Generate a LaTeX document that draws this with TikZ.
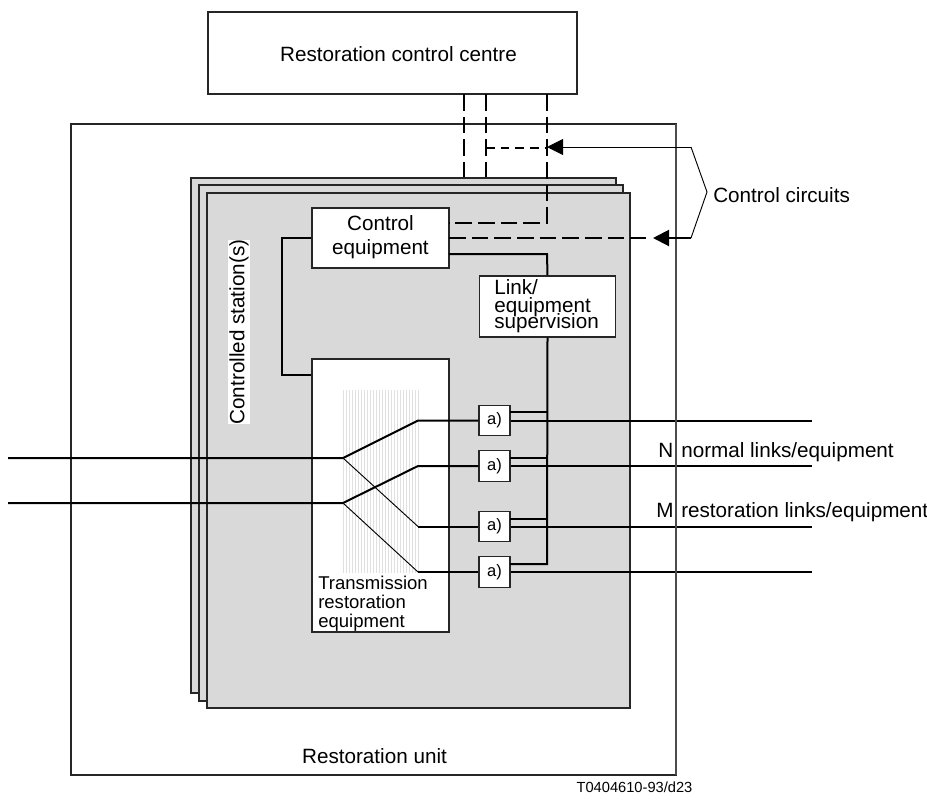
\documentclass[tikz,border=0pt]{standalone}
\usepackage{fontspec}
\setmainfont{Liberation Sans}
\usepackage{tikz}
\usetikzlibrary{arrows.meta}
\definecolor{stationgrey}{gray}{0.85}

\begin{document}
\begin{tikzpicture}[x=0.75pt, y=-0.75pt, font=\fontsize{15.5}{17}\selectfont,
    box/.style = {draw=black!85, fill=white, inner sep=0pt, line width=0.9pt},
    station/.style = {draw=black!85, fill=stationgrey, line width=1.1pt},
    small/.style = {box, minimum width=23.25pt, minimum height=23pt, font=\fontsize{12.4}{14}\selectfont},
    link/.style = {line width=1.5pt},
    thin link/.style = {line width=0.7pt},
    circuit/.style = {line width=1.5pt, dash pattern=on 12.5pt off 4.5pt},
    head/.style = {-{Triangle[length=12pt,width=12pt]}}]
    \useasboundingbox (0,0) rectangle (927,801);
    % outer boxes
    \node[box, minimum width=276.75pt, minimum height=61.5pt] (centre) at (392.5,53) {};
    \node (centrelabel) at (398.5,54) {Restoration control centre};
    \node[box, minimum width=453.75pt, minimum height=488.25pt] (unit) at (373.5,449.5) {};
    \node[anchor=base] (unitlabel) at (374.5,763) {Restoration unit};
    \node[anchor=base, font=\fontsize{11}{13}\selectfont] (code) at (634.5,792) {T0404610-93/d23};
    % control circuits above the stations
    \coordinate (d1) at (464,94);
    \coordinate (d2) at (486,94);
    \coordinate (d3) at (547,94);
    \coordinate (d1e) at (464,178);
    \coordinate (d2e) at (486,178);
    \coordinate (d3m) at (547,148);
    \coordinate (d2m) at (486,148);
    \draw[circuit] (d1) -- (d1e);
    \draw[circuit] (d2) -- (d2e);
    \draw[link, dash pattern=on 6.5pt off 4.5pt] (d2m) -- (d3m);
    % controlled stations
    \draw[station] (191,178) rectangle (616,693);
    \draw[station] (199,185) rectangle (623,701);
    \draw[station] (207,193) rectangle (630,708);
    \node[fill=white, rotate=90, inner xsep=0pt, inner ysep=1pt] (stations) at (239,332) {Controlled station(s)};
    % boxes
    \node[box, minimum width=102.75pt, minimum height=45pt] (control) at (380.5,238) {};
    \node[anchor=base] (controla) at (380.5,230) {Control};
    \node[anchor=base] (controlb) at (380.5,254) {equipment};
    \node[box, minimum width=102.75pt, minimum height=204.75pt] (trans) at (380.5,495.5) {};
    \node[box, minimum width=102pt, minimum height=45.75pt] (super) at (547.5,306.5) {};
    \node[anchor=base west, inner sep=0pt] (supera) at (494,294) {Link/};
    \node[anchor=base west, inner sep=0pt] (superb) at (494,312) {equipment};
    \node[anchor=base west, inner sep=0pt] (superc) at (494,328) {supervision};
    \foreach \x in {343,346,...,420}
        \draw[black!12, line width=0.4pt] (\x,390) -- (\x,573);
    \node[anchor=north west, inner sep=0pt, align=left, font=\fontsize{13.9}{14.3}\selectfont] (translabel) at (318,576) {Transmission\\restoration\\equipment};
    \node[small] (a1) at (494.5,420.5) {a)};
    \node[small] (a2) at (494.5,466) {a)};
    \node[small] (a3) at (494.5,526.5) {a)};
    \node[small] (a4) at (494.5,572) {a)};
    % switch
    \coordinate (in1) at (8,458);
    \coordinate (in2) at (8,503);
    \coordinate (f1) at (343,458);
    \coordinate (f2) at (343,503);
    \coordinate (t1) at (418,420.5);
    \coordinate (t2) at (418,466);
    \coordinate (t3) at (418,526.5);
    \coordinate (t4) at (418,572);
    \draw[link] (in1) -- (f1) -- (t1) -- (a1);
    \draw[link] (in2) -- (f2) -- (t2) -- (a2);
    \draw[thin link] (f1) -- (t3);
    \draw[thin link] (f2) -- (t4);
    \draw[link] (t3) -- (a3);
    \draw[link] (t4) -- (a4);
    % outgoing links
    \coordinate (o1) at (812,420.5);
    \coordinate (o2) at (812,466);
    \coordinate (o3) at (812,526.5);
    \coordinate (o4) at (812,572);
    \draw[link] (a1) -- (o1);
    \draw[link] (a2) -- (o2);
    \draw[link] (a3) -- (o3);
    \draw[link] (a4) -- (o4);
    \draw[black!70, line width=0.9pt] (676,124) -- (676,775);
    \node[anchor=base west, inner sep=0pt] (nlabel) at (658,457) {N};
    \node[anchor=base west, inner sep=0pt] (nlabelb) at (681,457) {normal links/equipment};
    \node[anchor=base west, inner sep=0pt] (mlabel) at (656,517) {M};
    \node[anchor=base west, inner sep=0pt] (mlabelb) at (681,517) {restoration links/equipment};
    % supervision bus
    \coordinate (b0) at (547,254);
    \coordinate (b4) at (547,564);
    \coordinate (c1) at (449,254);
    \draw[link] (c1) -- (b0) -- (super.north);
    \draw[link] (super.south) -- (b4) -- (510,564);
    \draw[link] (510,412) -- (547,412);
    \draw[link] (510,458) -- (547,458);
    \draw[link] (510,519) -- (547,519);
    % control to transmission equipment
    \coordinate (l1) at (282,238);
    \coordinate (l2) at (282,375);
    \draw[link] (control.west) -- (l1) -- (l2) -- (trans.west |- l2);
    % control circuits from the control equipment
    \coordinate (e1) at (449,223);
    \coordinate (e2) at (449,238);
    \coordinate (e3) at (547,223);
    \coordinate (e4) at (646,238);
    \draw[circuit] (d3) -- (e3) -- (e1);
    \draw[circuit] (e2) -- (e4);
    % brace
    \node[anchor=west, inner sep=0pt] (circuits) at (713,195) {Control circuits};
    \coordinate (k1) at (691,147);
    \coordinate (k2) at (707,192);
    \coordinate (k3) at (691,238);
    \coordinate (p1) at (547,147);
    \coordinate (p2) at (653,238);
    \draw[thin link] (k3) -- (k2) -- (k1);
    \draw[thin link, head] (k1) -- (p1);
    \draw[link, head] (k3) -- (p2);
\end{tikzpicture}
\end{document}
